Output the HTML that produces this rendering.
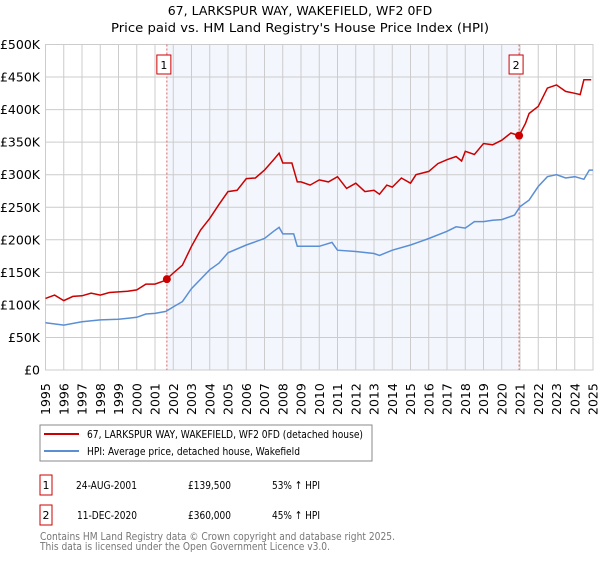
<!DOCTYPE html>
<html><head><meta charset="utf-8"><style>
body{margin:0;background:#fff;font-family:"Liberation Sans","DejaVu Sans",sans-serif;}
svg text{font-family:"DejaVu Sans","Liberation Sans",sans-serif;}
</style></head><body>
<svg id="c" width="600" height="560" viewBox="0 0 600 560" xmlns="http://www.w3.org/2000/svg">
<text x="300" y="15" text-anchor="middle" font-size="12.5" fill="#000">67, LARKSPUR WAY, WAKEFIELD, WF2 0FD</text>
<text x="300" y="32" text-anchor="middle" font-size="12.5" fill="#000" textLength="378" lengthAdjust="spacingAndGlyphs">Price paid vs. HM Land Registry's House Price Index (HPI)</text>
<g id="grid"></g><g id="plot"></g>
<g>
<rect x="40" y="425" width="332" height="36" fill="#fff" stroke="#888"/>
<line x1="44" y1="434" x2="79" y2="434" stroke="#cc0000" stroke-width="2"/>
<text x="87" y="438" font-size="11" textLength="276" lengthAdjust="spacingAndGlyphs">67, LARKSPUR WAY, WAKEFIELD, WF2 0FD (detached house)</text>
<line x1="44" y1="451" x2="79" y2="451" stroke="#5b8fd4" stroke-width="2"/>
<text x="87" y="455" font-size="11" textLength="213" lengthAdjust="spacingAndGlyphs">HPI: Average price, detached house, Wakefield</text>
</g>
<g font-size="11">
<rect x="40" y="475" width="12" height="20" fill="#fff" stroke="#cc0000"/><text x="46" y="489" text-anchor="middle">1</text>
<text x="76" y="489" textLength="61" lengthAdjust="spacingAndGlyphs">24-AUG-2001</text><text x="188" y="489" textLength="43" lengthAdjust="spacingAndGlyphs">£139,500</text><text x="272" y="489" textLength="48" lengthAdjust="spacingAndGlyphs">53% ↑ HPI</text>
<rect x="40" y="505" width="12" height="20" fill="#fff" stroke="#cc0000"/><text x="46" y="519" text-anchor="middle">2</text>
<text x="77" y="519" textLength="60" lengthAdjust="spacingAndGlyphs">11-DEC-2020</text><text x="188" y="519" textLength="43" lengthAdjust="spacingAndGlyphs">£360,000</text><text x="272" y="519" textLength="48" lengthAdjust="spacingAndGlyphs">45% ↑ HPI</text>
</g>
<text x="40" y="540" font-size="11" fill="#777" textLength="355" lengthAdjust="spacingAndGlyphs">Contains HM Land Registry data © Crown copyright and database right 2025.</text>
<text x="40" y="550" font-size="11" fill="#777" textLength="290" lengthAdjust="spacingAndGlyphs">This data is licensed under the Open Government Licence v3.0.</text>
</svg>
<script>
const yTicks=[0,50,100,150,200,250,300,350,400,450,500];
const yTickLabels=["£0","£50K","£100K","£150K","£200K","£250K","£300K","£350K","£400K","£450K","£500K"];
const years=[1995,1996,1997,1998,1999,2000,2001,2002,2003,2004,2005,2006,2007,2008,2009,2010,2011,2012,2013,2014,2015,2016,2017,2018,2019,2020,2021,2022,2023,2024,2025];
const hpiT=[1995,1996,1997,1998,1999,2000,2000.5,2001,2001.6,2002,2002.5,2003,2004,2004.5,2005,2006,2007,2007.5,2007.8,2008,2008.6,2008.8,2009,2010,2010.7,2011,2012,2013,2013.3,2014,2015,2015.5,2016,2017,2017.5,2018,2018.5,2019,2019.5,2020,2020.7,2021,2021.5,2022,2022.5,2023,2023.5,2024,2024.5,2024.8,2025];
const hpiV=[72.7,69,74,77,78,81,86,87,90,97,105,125,154,164,180,192,202,213,219,209,209,190,190,190,196,184,182,179,176,184,192,197,202,213,220,218,228,228,230,231,238,251,261,282,297,300,295,297,293,307,307];
const priceT=[1995,1995.5,1996,1996.5,1997,1997.5,1998,1998.5,1999,1999.5,2000,2000.5,2001,2001.5,2001.65,2002,2002.5,2003,2003.5,2004,2004.5,2005,2005.5,2006,2006.5,2007,2007.5,2007.8,2008,2008.5,2008.8,2009,2009.5,2010,2010.5,2011,2011.5,2012,2012.5,2013,2013.3,2013.7,2014,2014.5,2015,2015.3,2016,2016.5,2017,2017.5,2017.8,2018,2018.5,2019,2019.5,2020,2020.5,2020.95,2021.3,2021.5,2022,2022.5,2023,2023.5,2024,2024.3,2024.5,2024.9];
const priceV=[110,115,106.6,113,114,118,115,119,120,121,123,132,132,137,140,149,161,190,215,233,254,274,276,294,295,307,323,333,318,318,289,289,284,292,289,297,279,287,274,276,270,284,281,295,287,300,305,317,323,328,321,336,331,348,346,353,364,360,379,394,405,433,438,428,425,423,446,446];
const saleT=[2001.65,2020.95];
const saleV=[139.5,360];
const saleLabels=["1","2"];
const L=45.5,R=593,T=44.5,B=370;
const xs=t=>L+(t-1995)/30*(R-L);
const ys=v=>B-v/500*(B-T);
const NS="http://www.w3.org/2000/svg";
function mk(tag,at,parent){const e=document.createElementNS(NS,tag);for(const k in at)e.setAttribute(k,at[k]);parent.appendChild(e);return e;}
const grid=document.getElementById('grid'),plot=document.getElementById('plot');
const sh=mk('rect',{x:xs(saleT[0]),y:T,width:xs(saleT[1])-xs(saleT[0]),height:B-T,fill:'#f3f6fd'},grid);


yTicks.forEach((v,i)=>{
 const l=mk('line',{x1:L,x2:R,y1:ys(v),y2:ys(v),stroke:'#cccccc'},grid);
 
 
 const t=mk('text',{x:40,y:ys(v)+4.5,'text-anchor':'end','font-size':'12.5'},grid);
 t.textContent=yTickLabels[i];
 
 
});
years.forEach(yr=>{
 const l=mk('line',{x1:xs(yr),x2:xs(yr),y1:T,y2:B,stroke:'#cccccc'},grid);
 
 
 const t=mk('text',{transform:`translate(${xs(yr)+4.5},${415}) rotate(-90)`,'font-size':'12.5'},grid);
 t.textContent=yr;
 
 
});
const fr=mk('rect',{x:L,y:T,width:R-L,height:B-T,fill:'none',stroke:'#cccccc'},grid);


saleT.forEach((t,i)=>{
 const l=mk('line',{x1:xs(t),x2:xs(t),y1:T,y2:B,stroke:'#e06060','stroke-dasharray':'2,2','stroke-width':1},plot);
 
 
 const r=mk('rect',{x:xs(t)-10,y:55,width:14,height:19,fill:'#fff',stroke:'#cc0000'},plot);
 
 
 const tx=mk('text',{x:xs(t)-3,y:69,'text-anchor':'middle','font-size':'11'},plot);
 tx.textContent=saleLabels[i];
 
 
});
const hp=mk('path',{d:hpiT.map((t,i)=>(i?'L':'M')+xs(t).toFixed(1)+','+ys(hpiV[i]).toFixed(1)).join(''),fill:'none',stroke:'#5b8fd4','stroke-width':1.5},plot);


const pp=mk('path',{d:priceT.map((t,i)=>(i?'L':'M')+xs(t).toFixed(1)+','+ys(priceV[i]).toFixed(1)).join(''),fill:'none',stroke:'#cc0000','stroke-width':1.5},plot);


saleT.forEach((t,i)=>{
 const c=mk('circle',{cx:xs(t),cy:ys(saleV[i]),r:4,fill:'#cc0000'},plot);
 
 
});
</script>
</body></html>
